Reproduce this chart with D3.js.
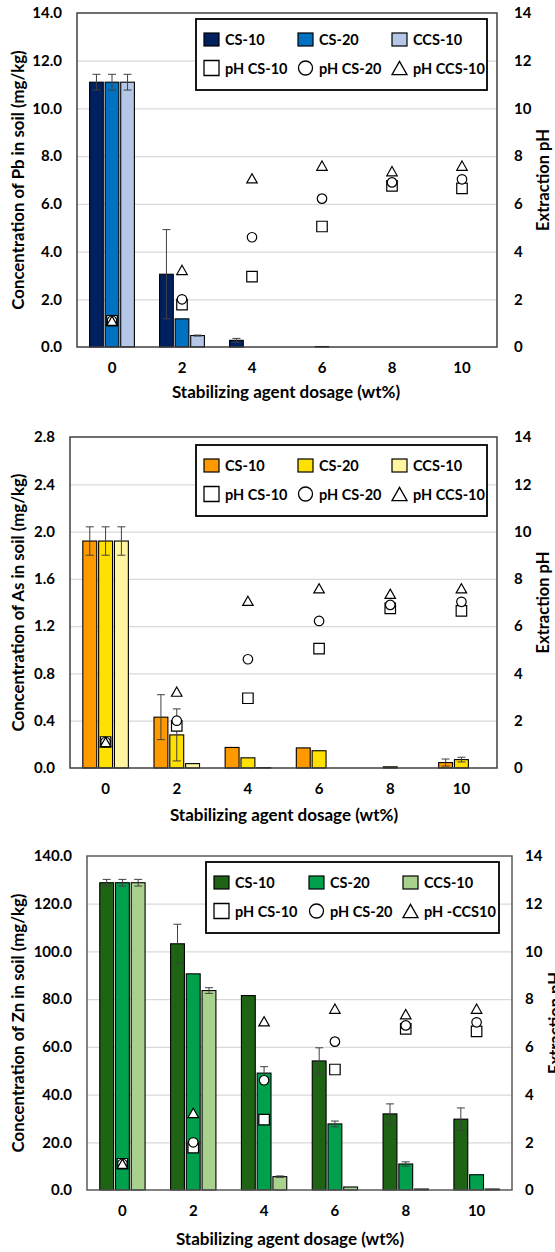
<!DOCTYPE html>
<html>
<head>
<meta charset="utf-8">
<script src="https://cdn.jsdelivr.net/npm/d3@7"></script>
<style>
  body { margin: 0; background: #fff; }
  svg text { font-family: Lato, "Open Sans", sans-serif; font-weight: bold; fill: #000; }
</style>
</head>
<body>
<svg id="chart" width="555" height="1252"></svg>
<script>
// categories
var dosages = ["0", "2", "4", "6", "8", "10"];
var seriesNames = ["CS-10", "CS-20", "CCS-10"];

// Pb (mg/kg)
var pbCS10 = [11.1, 3.05, 0.28, 0, 0, 0];
var pbCS20 = [11.1, 1.18, 0, 0.02, 0, 0];
var pbCCS10 = [11.1, 0.48, 0, 0, 0, 0];
var pbErrCS10 = [0.33, 1.87, 0.08, 0, 0, 0];
var pbErrCS20 = [0.33, 0, 0, 0, 0, 0];
var pbErrCCS10 = [0.33, 0.02, 0, 0, 0, 0];

// As (mg/kg)
var asCS10 = [1.92, 0.43, 0.174, 0.17, 0, 0.046];
var asCS20 = [1.92, 0.28, 0.086, 0.146, 0.01, 0.071];
var asCCS10 = [1.92, 0.037, 0.003, 0, 0, 0];
var asErrCS10 = [0.12, 0.19, 0, 0, 0, 0.03];
var asErrCS20 = [0.12, 0.22, 0, 0, 0, 0.02];
var asErrCCS10 = [0.12, 0, 0, 0, 0, 0];

// Zn (mg/kg)
var znCS10 = [128.8, 103.2, 81.5, 54.1, 31.9, 29.7];
var znCS20 = [128.8, 90.6, 49.0, 27.7, 10.9, 6.4];
var znCCS10 = [128.8, 83.6, 5.6, 1.26, 0.4, 0.4];
var znErrCS10 = [1.4, 8.2, 0, 5.5, 4.2, 4.7];
var znErrCS20 = [1.4, 0, 2.7, 1.2, 0.9, 0];
var znErrCCS10 = [1.4, 1.2, 0.3, 0, 0, 0];

// extraction pH (secondary axis)
var phCS10 = [1.1, 1.78, 2.95, 5.05, 6.75, 6.65];
var phCS20 = [1.1, 2.0, 4.6, 6.22, 6.9, 7.03];
var phCCS10 = [1.1, 3.23, 7.07, 7.6, 7.37, 7.6];

// y tick labels
var pbTicks = [0, 2, 4, 6, 8, 10, 12, 14];
var asTicks = [0, 0.4, 0.8, 1.2, 1.6, 2.0, 2.4, 2.8];
var znTicks = [0, 20, 40, 60, 80, 100, 120, 140];
var phTicks = [0, 2, 4, 6, 8, 10, 12, 14];

var svg = d3.select("#chart");

var panels = [
  {
    metal: "Pb", bars: [pbCS10, pbCS20, pbCCS10], errs: [pbErrCS10, pbErrCS20, pbErrCCS10],
    ticks: pbTicks, colors: ["#002060", "#0070C0", "#B4C7E7"],
    phLabels: ["pH CS-10", "pH CS-20", "pH CCS-10"],
    left: 77, right: 497, top: 13, bottom: 347, frame: "#404040",
    legend: {x: 196, y: 19, w: 291, h: 71, col: [0, 94, 188]},
    rightPad: 17, rightTitle: 549, xTitleX: 286, xTitleDy: 51
  },
  {
    metal: "As", bars: [asCS10, asCS20, asCCS10], errs: [asErrCS10, asErrCS20, asErrCCS10],
    ticks: asTicks, colors: ["#FF9900", "#FFE000", "#FFF5A0"],
    phLabels: ["pH CS-10", "pH CS-20", "pH CCS-10"],
    left: 70, right: 497, top: 437, bottom: 768, frame: "#404040",
    legend: {x: 196, y: 445, w: 291, h: 71, col: [0, 94, 188]},
    rightPad: 17, rightTitle: 549, xTitleX: 284, xTitleDy: 53
  },
  {
    metal: "Zn", bars: [znCS10, znCS20, znCCS10], errs: [znErrCS10, znErrCS20, znErrCCS10],
    ticks: znTicks, colors: ["#1E6414", "#00A04C", "#A9D18E"],
    phLabels: ["pH CS-10", "pH CS-20", "pH -CCS10"],
    left: 87, right: 512, top: 856, bottom: 1190, frame: "#595959",
    legend: {x: 206, y: 862, w: 293, h: 71, col: [0, 95, 189]},
    rightPad: 13, rightTitle: 561, xTitleX: 290, xTitleDy: 55
  }
];

var phSeries = [phCS10, phCS20, phCCS10];

function markerPath(kind, s) {
  // s = marker width
  if (kind === 0) return "M" + (-s/2) + "," + (-s/2) + "h" + s + "v" + s + "h" + (-s) + "Z";
  if (kind === 1) return d3.arc()({innerRadius: 0, outerRadius: s/2, startAngle: 0, endAngle: 2*Math.PI});
  var h = s * 0.88;
  return "M0," + (-h/2) + "L" + (s/2) + "," + (h/2) + "L" + (-s/2) + "," + (h/2) + "Z";
}

panels.forEach(function (p) {
  var w = p.right - p.left, h = p.bottom - p.top;
  var g = svg.append("g").attr("transform", "translate(" + p.left + "," + p.top + ")");

  var x = d3.scaleBand().domain(dosages).range([0, w]).padding(0);
  var bw = x.bandwidth();
  var inner = d3.scaleBand().domain([0, 1, 2]).range([bw * 0.18, bw * 0.82]).paddingInner(0.12);
  var yMax = p.ticks[p.ticks.length - 1];
  var y = d3.scaleLinear().domain([0, yMax]).range([h, 0]);
  var y2 = d3.scaleLinear().domain([0, 14]).range([h, 0]);

  // grid
  g.append("g").attr("class", "grid")
    .call(d3.axisLeft(y).tickValues(p.ticks.slice(1, -1)).tickSize(-w).tickFormat(""))
    .call(function (s) { s.select(".domain").remove(); })
    .selectAll("line").attr("stroke", "#D9D9D9").attr("stroke-width", 1.3);

  // bars
  p.bars.forEach(function (vals, si) {
    g.selectAll(".bar" + si)
      .data(vals.map(function (v, i) { return {cat: dosages[i], v: v, e: p.errs[si][i]}; }).filter(function (d) { return d.v > 0; }))
      .enter().append("rect")
      .attr("x", function (d) { return x(d.cat) + inner(si); })
      .attr("width", inner.bandwidth())
      .attr("y", function (d) { return y(d.v); })
      .attr("height", function (d) { return h - y(d.v); })
      .attr("fill", p.colors[si])
      .attr("stroke", "#000")
      .attr("stroke-width", 1.1);
  });

  // error bars
  p.bars.forEach(function (vals, si) {
    vals.forEach(function (v, i) {
      var e = p.errs[si][i];
      if (!e) return;
      var cx = x(dosages[i]) + inner(si) + inner.bandwidth() / 2;
      var eg = g.append("g").attr("stroke", "#404040").attr("stroke-width", 1);
      eg.append("line").attr("x1", cx).attr("x2", cx).attr("y1", y(v + e)).attr("y2", y(Math.max(0, v - e)));
      eg.append("line").attr("x1", cx - 4).attr("x2", cx + 4).attr("y1", y(v + e)).attr("y2", y(v + e));
      eg.append("line").attr("x1", cx - 4).attr("x2", cx + 4).attr("y1", y(Math.max(0, v - e))).attr("y2", y(Math.max(0, v - e)));
    });
  });

  // pH markers
  phSeries.forEach(function (vals, k) {
    g.selectAll(".ph" + k).data(vals).enter().append("path")
      .attr("d", markerPath(k, k === 1 ? 9.5 : 10.5))
      .attr("transform", function (d, i) { return "translate(" + (x(dosages[i]) + bw / 2) + "," + y2(d) + ")"; })
      .attr("fill", "#fff").attr("stroke", "#000").attr("stroke-width", 1.2);
  });

  // frame
  g.append("rect").attr("width", w).attr("height", h)
    .attr("fill", "none").attr("stroke", p.frame).attr("stroke-width", 1.5);

  // axes labels
  var fmt = d3.format(".1f");
  var ax = g.append("g").call(d3.axisLeft(y).tickValues(p.ticks).tickSize(0).tickPadding(15).tickFormat(fmt));
  ax.select(".domain").remove();
  ax.selectAll("text").attr("font-size", 15).attr("font-family", "Lato").attr("font-weight", "bold");

  var ar = g.append("g").attr("transform", "translate(" + w + ",0)")
    .call(d3.axisRight(y2).tickValues(phTicks).tickSize(0).tickPadding(p.rightPad).tickFormat(d3.format("d")));
  ar.select(".domain").remove();
  ar.selectAll("text").attr("font-size", 15).attr("font-family", "Lato").attr("font-weight", "bold");

  var ab = g.append("g").attr("transform", "translate(0," + h + ")")
    .call(d3.axisBottom(x).tickSize(0).tickPadding(15));
  ab.select(".domain").remove();
  ab.selectAll("text").attr("font-size", 15).attr("font-family", "Lato").attr("font-weight", "bold");

  // titles
  svg.append("text")
    .attr("x", p.xTitleX).attr("y", p.bottom + p.xTitleDy)
    .attr("text-anchor", "middle").attr("font-size", 17)
    .text("Stabilizing agent dosage (wt%)");
  svg.append("text")
    .attr("transform", "translate(24," + (p.top + h / 2) + ") rotate(-90)")
    .attr("text-anchor", "middle").attr("font-size", 16.8)
    .text("Concentration of " + p.metal + " in soil (mg/kg)");
  svg.append("text")
    .attr("transform", "translate(" + p.rightTitle + "," + (p.top + h / 2) + ") rotate(-90)")
    .attr("text-anchor", "middle").attr("font-size", 16.5)
    .text("Extraction pH");

  // legend
  var L = p.legend;
  var lg = svg.append("g").attr("transform", "translate(" + L.x + "," + L.y + ")");
  lg.append("rect").attr("width", L.w).attr("height", L.h).attr("fill", "#fff")
    .attr("stroke", "#000").attr("stroke-width", 1.8);
  seriesNames.forEach(function (name, i) {
    var cx = L.col[i] + 8;
    lg.append("rect").attr("x", cx).attr("y", 14).attr("width", 15).attr("height", 13)
      .attr("fill", p.colors[i]).attr("stroke", "#000").attr("stroke-width", 1.2);
    lg.append("text").attr("x", cx + 21).attr("y", 25.5).attr("font-size", 14.5).text(name);
  });
  p.phLabels.forEach(function (name, i) {
    var cx = L.col[i] + 8;
    lg.append("path").attr("d", markerPath(i, i === 1 ? 14 : 15))
      .attr("transform", "translate(" + (cx + 7.5) + ",49)")
      .attr("fill", "#fff").attr("stroke", "#000").attr("stroke-width", 1.3);
    lg.append("text").attr("x", cx + 21).attr("y", 54.5).attr("font-size", 14.5).text(name);
  });
});
</script>
</body>
</html>
